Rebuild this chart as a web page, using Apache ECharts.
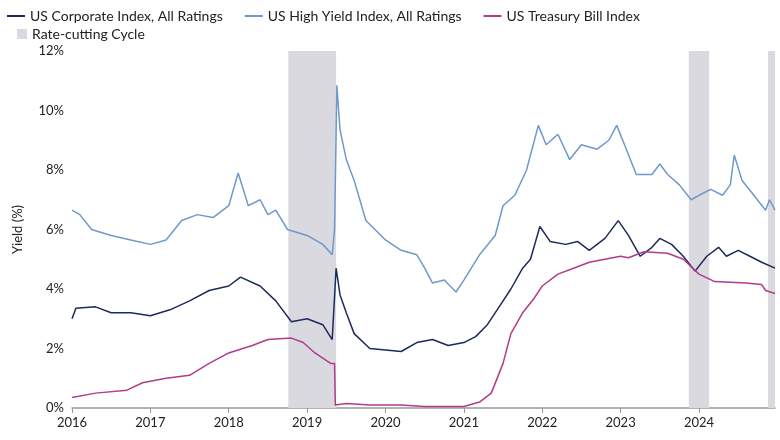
<!DOCTYPE html><html><head><meta charset="utf-8"><script src="https://cdn.jsdelivr.net/npm/echarts@6/dist/echarts.min.js"></script></head><body style="margin:0"><div id="c" style="width:780px;height:440px"></div><script>
const hy=[[2016.0,6.65],[2016.1,6.5],[2016.25,6.0],[2016.5,5.8],[2016.75,5.65],[2017.0,5.5],[2017.2,5.65],[2017.4,6.3],[2017.6,6.5],[2017.8,6.4],[2018.0,6.8],[2018.12,7.9],[2018.25,6.8],[2018.4,7.0],[2018.5,6.5],[2018.6,6.65],[2018.75,6.0],[2019.0,5.8],[2019.2,5.5],[2019.32,5.15],[2019.35,6.0],[2019.38,10.85],[2019.42,9.35],[2019.5,8.35],[2019.6,7.65],[2019.75,6.3],[2020.0,5.65],[2020.2,5.3],[2020.4,5.15],[2020.5,4.7],[2020.6,4.2],[2020.75,4.3],[2020.9,3.9],[2021.0,4.3],[2021.2,5.15],[2021.4,5.8],[2021.5,6.8],[2021.65,7.15],[2021.8,8.0],[2021.95,9.5],[2022.05,8.85],[2022.2,9.2],[2022.35,8.35],[2022.5,8.85],[2022.7,8.7],[2022.85,9.0],[2022.95,9.5],[2023.05,8.85],[2023.2,7.85],[2023.4,7.85],[2023.5,8.2],[2023.6,7.85],[2023.75,7.5],[2023.9,7.0],[2024.0,7.15],[2024.15,7.35],[2024.3,7.15],[2024.4,7.5],[2024.45,8.5],[2024.55,7.65],[2024.7,7.15],[2024.85,6.65],[2024.9,7.0],[2024.97,6.65]];
const corp=[[2016.0,3.0],[2016.05,3.35],[2016.3,3.4],[2016.5,3.2],[2016.75,3.2],[2017.0,3.1],[2017.25,3.3],[2017.5,3.6],[2017.75,3.95],[2018.0,4.1],[2018.15,4.4],[2018.4,4.1],[2018.6,3.6],[2018.8,2.9],[2019.0,3.0],[2019.2,2.8],[2019.32,2.3],[2019.37,4.7],[2019.42,3.8],[2019.5,3.2],[2019.6,2.5],[2019.8,2.0],[2020.0,1.95],[2020.2,1.9],[2020.4,2.2],[2020.6,2.3],[2020.8,2.1],[2021.0,2.2],[2021.15,2.4],[2021.3,2.8],[2021.45,3.4],[2021.6,4.0],[2021.75,4.7],[2021.85,5.0],[2021.97,6.1],[2022.1,5.6],[2022.3,5.5],[2022.45,5.6],[2022.6,5.3],[2022.8,5.7],[2022.97,6.3],[2023.1,5.8],[2023.25,5.1],[2023.4,5.4],[2023.5,5.7],[2023.65,5.5],[2023.8,5.1],[2023.95,4.6],[2024.1,5.1],[2024.25,5.4],[2024.35,5.1],[2024.5,5.3],[2024.65,5.1],[2024.8,4.9],[2024.97,4.7]];
const tbill=[[2016.0,0.35],[2016.3,0.5],[2016.7,0.6],[2016.9,0.85],[2017.2,1.0],[2017.5,1.1],[2017.75,1.5],[2018.0,1.85],[2018.3,2.1],[2018.5,2.3],[2018.8,2.35],[2018.95,2.2],[2019.1,1.85],[2019.3,1.5],[2019.35,1.5],[2019.36,0.1],[2019.5,0.15],[2019.8,0.1],[2020.2,0.1],[2020.5,0.05],[2021.0,0.05],[2021.2,0.2],[2021.35,0.5],[2021.5,1.5],[2021.6,2.5],[2021.75,3.2],[2021.9,3.7],[2022.0,4.1],[2022.2,4.5],[2022.4,4.7],[2022.6,4.9],[2022.8,5.0],[2023.0,5.1],[2023.1,5.05],[2023.3,5.25],[2023.6,5.2],[2023.8,5.0],[2024.0,4.5],[2024.2,4.25],[2024.6,4.2],[2024.8,4.15],[2024.85,3.95],[2024.97,3.85]];
const cuts=[[2018.76,2019.37],[2023.87,2024.13],[2024.88,2024.97]];
const names=['US Corporate Index, All Ratings','US High Yield Index, All Ratings','US Treasury Bill Index','Rate-cutting Cycle'];
const F='Lato';
const ln=(n,d,c)=>({name:n,type:'line',data:d,showSymbol:false,symbol:'none',lineStyle:{width:1.5,color:c},itemStyle:{color:c},z:3});
const lt={fontFamily:F,fontSize:14,color:'#222'};
echarts.init(document.getElementById('c')).setOption({
animation:false,
legend:[{left:2,top:4,itemGap:22,itemWidth:18,itemHeight:10,textStyle:lt,
 data:[{name:names[0],icon:'path://M0,4h18v2H0z'},{name:names[1],icon:'path://M0,4h18v2H0z'},{name:names[2],icon:'path://M0,4h18v2H0z'}]},
 {left:12,top:22,itemWidth:10,itemHeight:10,textStyle:lt,data:[{name:names[3],icon:'rect'}]}],
grid:{left:72,right:5,top:51,bottom:32},
xAxis:{type:'value',min:2016,max:2024.97,interval:1,axisLine:{lineStyle:{color:'#999',width:1.5}},axisTick:{show:true,lineStyle:{color:'#999'}},splitLine:{show:false},
 axisLabel:{fontFamily:F,fontSize:13,color:'#222',formatter:v=>Number.isInteger(v)?String(v):'',showMaxLabel:false}},
yAxis:{type:'value',min:0,max:12,interval:2,name:'Yield (%)',nameLocation:'middle',nameGap:48,nameTextStyle:{fontFamily:F,fontSize:13,color:'#222'},
 axisLabel:{fontFamily:F,fontSize:13,color:'#222',formatter:'{value}%'},splitLine:{show:false},axisLine:{show:false},axisTick:{show:false}},
series:[ln(names[0],corp,'#1c2a5c'),ln(names[1],hy,'#6f98cb'),ln(names[2],tbill,'#b03c8c'),
 {name:names[3],type:'line',data:[],itemStyle:{color:'#d9d9df'},markArea:{silent:true,itemStyle:{color:'#d9d9df'},data:cuts.map(c=>[{xAxis:c[0]},{xAxis:c[1]}])},z:1}]
});
</script></body></html>
